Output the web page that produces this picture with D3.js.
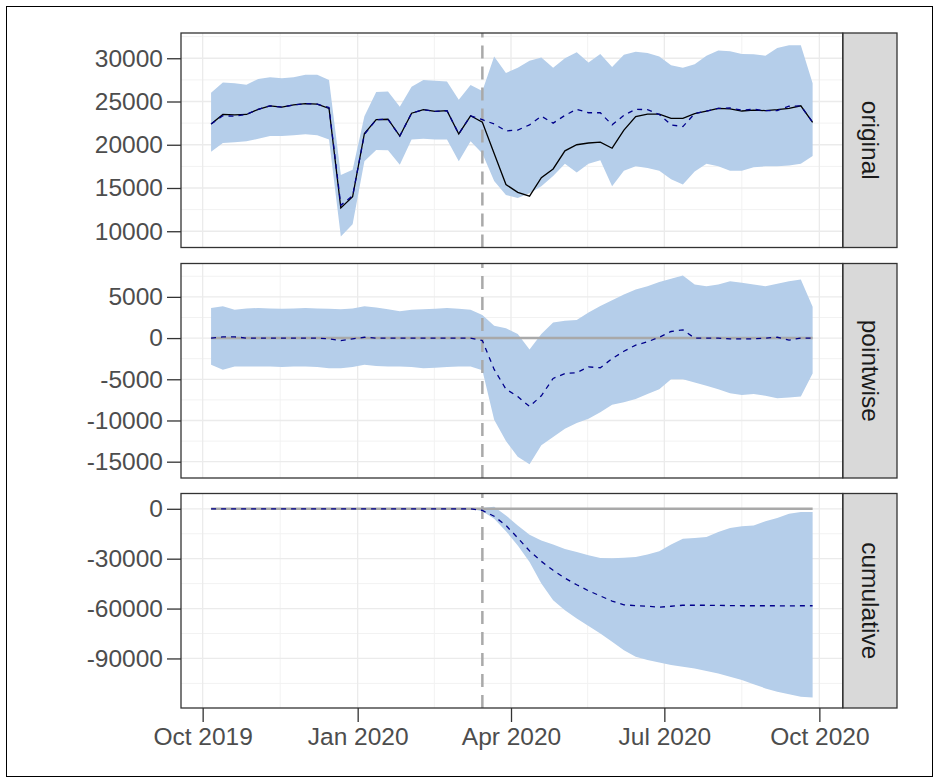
<!DOCTYPE html>
<html>
<head>
<meta charset="utf-8">
<script src="https://cdn.jsdelivr.net/npm/d3@7"></script>
<style>
  html, body { margin: 0; padding: 0; background: #ffffff; }
  svg { display: block; }
  text { font-family: "Liberation Sans", Arial, sans-serif; }
</style>
</head>
<body>
<svg id="chart" width="938" height="782"></svg>
<script>
// ---------- DATA ----------
const dates = [
  "2019-10-06","2019-10-13","2019-10-20","2019-10-27","2019-11-03","2019-11-10","2019-11-17","2019-11-24",
  "2019-12-01","2019-12-08","2019-12-15","2019-12-22","2019-12-29","2020-01-05","2020-01-12","2020-01-19",
  "2020-01-26","2020-02-02","2020-02-09","2020-02-16","2020-02-23","2020-03-01","2020-03-08","2020-03-15",
  "2020-03-22","2020-03-29","2020-04-05","2020-04-12","2020-04-19","2020-04-26","2020-05-03","2020-05-10",
  "2020-05-17","2020-05-24","2020-05-31","2020-06-07","2020-06-14","2020-06-21","2020-06-28","2020-07-05",
  "2020-07-12","2020-07-19","2020-07-26","2020-08-02","2020-08-09","2020-08-16","2020-08-23","2020-08-30",
  "2020-09-06","2020-09-13","2020-09-20","2020-09-27"
];
const interventionDate = "2020-03-15";

const actual = [22400,23500,23450,23500,24100,24500,24350,24600,24750,24700,24200,12700,14000,21300,22900,22950,
  21000,23650,24050,23850,23950,21250,23350,22600,19000,15400,14500,14050,16200,17200,19300,20000,
  20200,20300,19600,21700,23250,23550,23550,23050,23050,23600,23900,24200,24150,23900,24000,23950,
  24050,24200,24500,22600];
const predicted = [22400,23350,23300,23500,24100,24500,24350,24600,24750,24700,24300,13000,14100,21200,22900,22950,
  21000,23650,24050,23850,23950,21250,23350,22900,22400,21600,21700,22300,23300,22500,23400,24100,
  23700,23700,22300,23400,24100,24050,23500,22300,22100,23600,23900,24200,24250,24000,24100,23950,
  23950,24450,24500,22600];
const predUpper = [26000,27200,27100,26950,27600,27800,27700,27800,28100,28100,27500,16500,17100,23300,26100,26150,
  24400,26700,27500,27400,27300,25200,26900,26200,30200,28300,28900,29700,30100,28900,30000,30700,
  29500,30500,29000,30400,30750,30600,30200,29200,28900,29300,30300,30900,30800,30500,30450,30300,
  31200,31500,31500,27100];
const predLower = [19200,20200,20300,20400,20700,21000,21000,21100,21200,21100,20600,9400,10800,18100,19400,19350,
  17700,20600,20700,20600,20600,18100,20400,19000,15800,14200,13850,14400,15200,16400,17800,16800,
  17800,18200,15200,17000,17500,17300,17000,16000,15400,16900,17800,17500,17000,17000,17400,17500,
  17500,17600,17800,18700];

const pointEffect = [0,150,150,0,0,0,0,0,0,0,-100,-300,-100,100,0,0,
  0,0,0,0,0,0,0,-300,-3800,-6200,-7100,-8300,-7000,-4900,-4300,-4200,
  -3500,-3600,-2500,-1600,-850,-450,100,800,1000,0,0,0,-100,-100,-100,0,
  100,-250,0,0];
const pointUpper = [3650,3850,3450,3600,3650,3600,3550,3600,3650,3600,3550,3500,3600,3850,3700,3500,
  3250,3450,3500,3550,3650,3550,3450,2800,1500,1200,500,-1400,500,1900,2100,2200,
  3100,3900,4600,5300,5900,6300,6800,7200,7600,6500,6300,6500,6900,6700,6500,6300,
  6600,6900,7100,3800];
const pointLower = [-3250,-3850,-3450,-3450,-3450,-3450,-3500,-3450,-3450,-3500,-3650,-3650,-3500,-3250,-3400,-3450,
  -3450,-3500,-3650,-3600,-3500,-3450,-3450,-3900,-9900,-12500,-14400,-15300,-13000,-12000,-11000,-10300,
  -9800,-9000,-8100,-7800,-7400,-6800,-6200,-5000,-5000,-5400,-5800,-6200,-6700,-6900,-6800,-7000,
  -7300,-7200,-7100,-4300];

const cumEffect = [0,0,0,0,0,0,0,0,0,0,0,0,0,0,0,0,
  0,0,0,0,0,0,0,-1000,-4500,-10000,-17500,-25300,-31600,-37000,-41700,-45700,
  -49300,-52400,-55500,-57800,-58200,-58600,-59200,-58600,-58000,-58000,-58000,-58100,-58200,-58300,-58300,-58300,
  -58300,-58400,-58300,-58300];
const cumUpper = [0,0,0,0,0,0,0,0,0,0,0,0,0,0,0,0,
  0,0,0,0,0,0,0,500,1200,-4000,-10000,-15600,-19000,-21400,-24200,-26000,
  -28000,-29600,-29800,-29500,-29000,-27500,-25500,-21500,-18000,-17500,-17000,-14000,-11500,-10500,-10000,-7500,
  -5500,-3000,-2000,-2000];
const cumLower = [0,0,0,0,0,0,0,0,0,0,0,0,0,0,0,0,
  0,0,0,0,0,0,0,-1500,-6000,-13500,-22000,-32000,-45000,-55000,-61000,-66000,
  -70500,-75000,-80000,-85000,-89000,-91000,-92500,-94000,-95000,-96000,-97500,-99000,-101000,-103000,-105500,-108000,
  -110000,-111500,-113000,-113500];

const panelNames = ["original", "pointwise", "cumulative"];
const yTicksOriginal = [10000, 15000, 20000, 25000, 30000];
const yTicksPointwise = [-15000, -10000, -5000, 0, 5000];
const yTicksCumulative = [-90000, -60000, -30000, 0];
const yDomainOriginal = [8120, 32920];
const yDomainPointwise = [-16980, 9050];
const yDomainCumulative = [-119800, 9200];
const xTickDates = ["2019-10-01", "2020-01-01", "2020-04-01", "2020-07-01", "2020-10-01"];
const xTickLabels = ["Oct 2019", "Jan 2020", "Apr 2020", "Jul 2020", "Oct 2020"];

// ---------- LAYOUT ----------
const W = 938, H = 782;
const plotLeft = 181, plotRight = 842.7;
const stripLeft = 843, stripRight = 897;
const panelTops = [33, 263.5, 493.5];
const panelH = 214.5;
const tickLen = 14;
const fontSize = 24.5;

const parse = d3.utcParse("%Y-%m-%d");
const xDates = dates.map(parse);

const svg = d3.select("#chart");
svg.append("rect").attr("x", 0).attr("y", 0).attr("width", W).attr("height", H).attr("fill", "#ffffff");
svg.append("rect").attr("x", 6.5).attr("y", 6.5).attr("width", 926).attr("height", 770)
  .attr("fill", "none").attr("stroke", "#000000").attr("stroke-width", 1);

// x scale with 5% expansion
const xMin = d3.min(xDates), xMax = d3.max(xDates);
const span = xMax - xMin;
const x = d3.scaleUtc()
  .domain([new Date(+xMin - 0.05 * span), new Date(+xMax + 0.05 * span)])
  .range([plotLeft, plotRight]);
const xMajor = xTickDates.map(parse);
const xMinor = [];
for (let i = 0; i < xMajor.length - 1; i++) xMinor.push(new Date((+xMajor[i] + +xMajor[i + 1]) / 2));

const panels = [
  { name: panelNames[0], domain: yDomainOriginal, ticks: yTicksOriginal, lower: predLower, upper: predUpper,
    lines: [{ v: actual, color: "#000000", dash: null }, { v: predicted, color: "#00008B", dash: "5,5" }], zero: false },
  { name: panelNames[1], domain: yDomainPointwise, ticks: yTicksPointwise, lower: pointLower, upper: pointUpper,
    lines: [{ v: pointEffect, color: "#00008B", dash: "5,5" }], zero: true },
  { name: panelNames[2], domain: yDomainCumulative, ticks: yTicksCumulative, lower: cumLower, upper: cumUpper,
    lines: [{ v: cumEffect, color: "#00008B", dash: "5,5" }], zero: true }
];

panels.forEach((p, k) => {
  const top = panelTops[k], bottom = top + panelH;
  const y = d3.scaleLinear().domain(p.domain).range([bottom, top]);
  const step = p.ticks[1] - p.ticks[0];
  const yMinor = [];
  for (let t = p.ticks[0] - step / 2; t <= p.ticks[p.ticks.length - 1] + step; t += step) {
    if (t > p.domain[0] && t < p.domain[1]) yMinor.push(t);
  }
  const g = svg.append("g");
  const clipId = "clip" + k;
  svg.append("clipPath").attr("id", clipId).append("rect")
    .attr("x", plotLeft).attr("y", top).attr("width", plotRight - plotLeft).attr("height", panelH);

  // grid
  const grid = g.append("g");
  grid.selectAll(".ymin").data(yMinor).enter().append("line")
    .attr("x1", plotLeft).attr("x2", plotRight).attr("y1", d => y(d)).attr("y2", d => y(d))
    .attr("stroke", "#F2F2F2").attr("stroke-width", 1);
  grid.selectAll(".xmin").data(xMinor).enter().append("line")
    .attr("x1", d => x(d)).attr("x2", d => x(d)).attr("y1", top).attr("y2", bottom)
    .attr("stroke", "#F2F2F2").attr("stroke-width", 1);
  grid.selectAll(".ymaj").data(p.ticks).enter().append("line")
    .attr("x1", plotLeft).attr("x2", plotRight).attr("y1", d => y(d)).attr("y2", d => y(d))
    .attr("stroke", "#EBEBEB").attr("stroke-width", 1.3);
  grid.selectAll(".xmaj").data(xMajor).enter().append("line")
    .attr("x1", d => x(d)).attr("x2", d => x(d)).attr("y1", top).attr("y2", bottom)
    .attr("stroke", "#EBEBEB").attr("stroke-width", 1.3);

  const body = g.append("g").attr("clip-path", `url(#${clipId})`);
  // ribbon
  const area = d3.area()
    .x((d, i) => x(xDates[i]))
    .y0((d, i) => y(p.lower[i]))
    .y1((d, i) => y(p.upper[i]));
  body.append("path").datum(xDates).attr("d", area).attr("fill", "#B5CEEA").attr("stroke", "none");

  // zero baseline
  if (p.zero) {
    body.append("line")
      .attr("x1", x(xDates[0])).attr("x2", x(xDates[xDates.length - 1]))
      .attr("y1", y(0)).attr("y2", y(0))
      .attr("stroke", "#A9A9A9").attr("stroke-width", 2.5);
  }
  // intervention line
  const xi = x(parse(interventionDate));
  body.append("line").attr("x1", xi).attr("x2", xi).attr("y1", bottom).attr("y2", top)
    .attr("stroke", "#A9A9A9").attr("stroke-width", 2.5).attr("stroke-dasharray", "13,8");

  // lines
  p.lines.forEach(L => {
    const line = d3.line().x((d, i) => x(xDates[i])).y(d => y(d));
    const path = body.append("path").datum(L.v).attr("d", line)
      .attr("fill", "none").attr("stroke", L.color).attr("stroke-width", 1.3);
    if (L.dash) path.attr("stroke-dasharray", L.dash);
  });

  // panel border
  g.append("rect").attr("x", plotLeft).attr("y", top).attr("width", plotRight - plotLeft).attr("height", panelH)
    .attr("fill", "none").attr("stroke", "#333333").attr("stroke-width", 1.3);

  // strip
  g.append("rect").attr("x", stripLeft).attr("y", top).attr("width", stripRight - stripLeft).attr("height", panelH)
    .attr("fill", "#D9D9D9").attr("stroke", "#333333").attr("stroke-width", 1.3);
  const cx = (stripLeft + stripRight) / 2, cy = top + panelH / 2;
  g.append("text").attr("transform", `translate(${cx},${cy}) rotate(90)`)
    .attr("text-anchor", "middle").attr("dominant-baseline", "central")
    .attr("font-size", fontSize).attr("fill", "#1A1A1A").text(p.name);

  // y axis
  const yAxis = d3.axisLeft(y).tickValues(p.ticks).tickSize(tickLen).tickPadding(4).tickFormat(d => String(d));
  const ag = g.append("g").attr("transform", `translate(${plotLeft},0)`).call(yAxis);
  ag.select(".domain").remove();
  ag.selectAll(".tick line").attr("stroke", "#333333").attr("stroke-width", 1.3);
  ag.selectAll(".tick text").attr("font-size", fontSize).attr("fill", "#4D4D4D")
    .attr("font-family", "'Liberation Sans', Arial, sans-serif");

  // x axis on bottom panel
  if (k === panels.length - 1) {
    const xAxis = d3.axisBottom(x).tickValues(xMajor).tickSize(tickLen).tickPadding(6)
      .tickFormat((d, i) => xTickLabels[i]);
    const xg = g.append("g").attr("transform", `translate(0,${bottom})`).call(xAxis);
    xg.select(".domain").remove();
    xg.selectAll(".tick line").attr("stroke", "#333333").attr("stroke-width", 1.3);
    xg.selectAll(".tick text").attr("font-size", fontSize).attr("fill", "#4D4D4D")
      .attr("font-family", "'Liberation Sans', Arial, sans-serif");
  }
});
</script>
</body>
</html>
